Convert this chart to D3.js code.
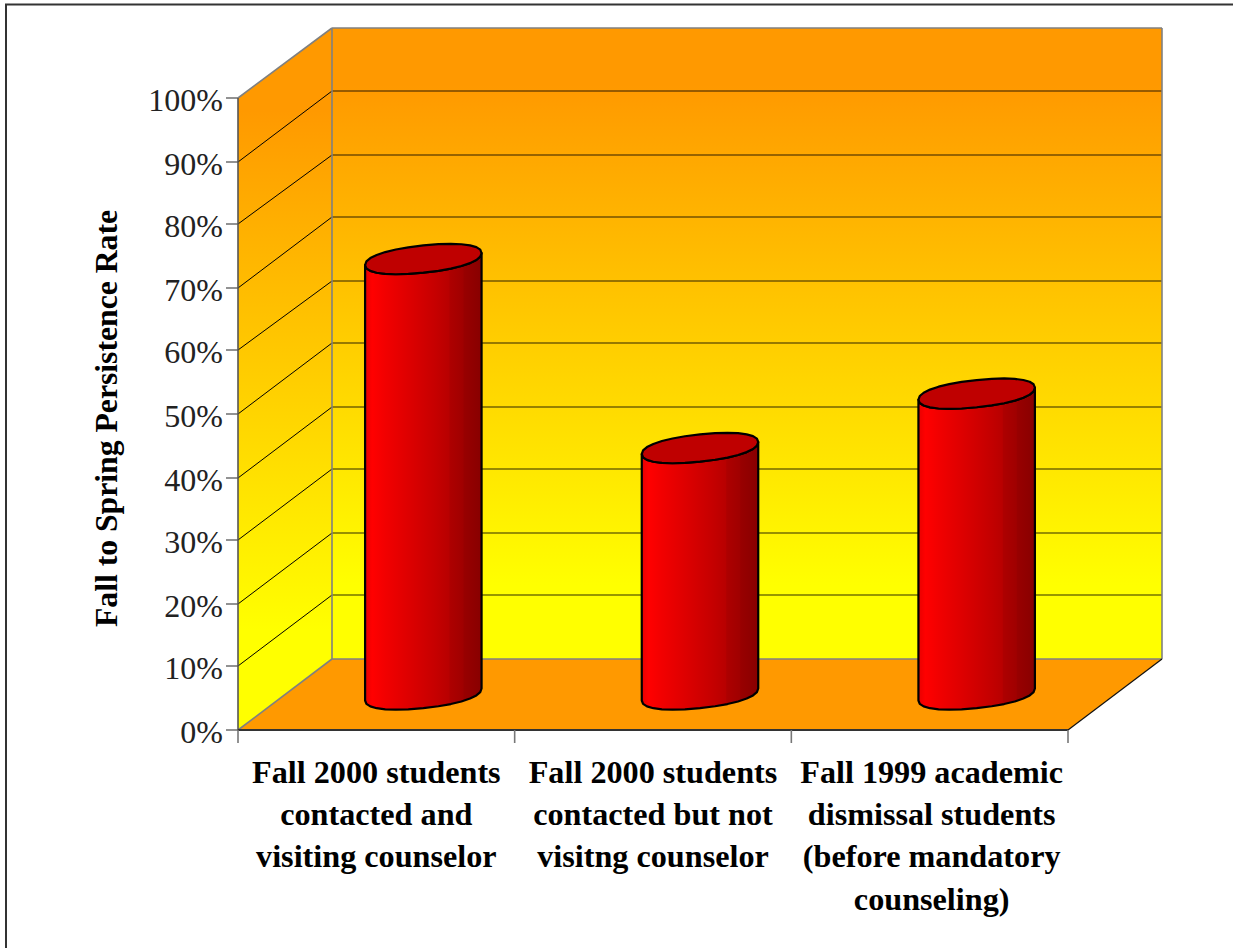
<!DOCTYPE html>
<html><head><meta charset="utf-8">
<script src="https://cdn.jsdelivr.net/npm/d3@7/dist/d3.min.js"></script>
<style>html,body{margin:0;padding:0;background:#fff}svg{display:block}text{font-family:"Liberation Serif",serif}</style>
</head><body><svg id="c" width="1233" height="948"></svg>
<script>
const categories = [
  ["Fall 2000 students","contacted and","visiting counselor"],
  ["Fall 2000 students","contacted but not","visitng counselor"],
  ["Fall 1999 academic","dismissal students","(before mandatory","counseling)"]
];
const rates = [68.9, 39, 47.6];
const yTicks = [0,10,20,30,40,50,60,70,80,90,100];
const axisTitle = "Fall to Spring Persistence Rate";

const W=1233,H=948, depthX=94, depthY=-71;
const svg=d3.select("#c");
const x=d3.scaleBand().domain(d3.range(categories.length)).range([238,1068]).paddingInner(0.579).paddingOuter(0.2895);
const y=d3.scaleLinear().domain([0,100]).range([730,98]);
const yBack=d3.scaleLinear().domain([0,100]).range([659,28]);
const snapFront=v=>2*Math.round(v/2);
const snapBack=v=>2*Math.floor(v/2)+1;
const x0=x.range()[0],x1=x.range()[1],yB=y(0),yT=y(100),bB=yBack(0),bT=yBack(100);

const defs=svg.append("defs");
function grad(id,attrs,stops){
  const g=defs.append("linearGradient").attr("id",id);
  Object.entries(attrs).forEach(([k,v])=>g.attr(k,v));
  stops.forEach(s=>g.append("stop").attr("offset",s[0]).attr("stop-color",s[1]));
}
grad("wall",{gradientUnits:"userSpaceOnUse",x1:0,x2:0,y1:85,y2:585},[[0,"#ff9900"],[1,"#ffff00"]]);
grad("side",{gradientUnits:"userSpaceOnUse",x1:0,x2:0,y1:110,y2:630},[[0,"#ff9900"],[1,"#ffff00"]]);
grad("body",{x1:0,x2:1,y1:0,y2:0},[[0,"#e80000"],[.06,"#ff0000"],[.17,"#f20000"],[.35,"#e00000"],[.6,"#c60000"],[.72,"#b80000"],[.73,"#ad0000"],[.84,"#a00000"],[.85,"#980000"],[1,"#880000"]]);

// frame
svg.append("path").attr("d",`M6,${H}V4.5H${W}`).attr("fill","none").attr("stroke","#333").attr("stroke-width",2);

// walls and floor
const poly=p=>"M"+p.map(d=>d.join(",")).join("L")+"Z";
svg.append("path").attr("d",poly([[x0+depthX,bT],[x1+depthX,bT],[x1+depthX,bB],[x0+depthX,bB]])).attr("fill","url(#wall)");
svg.append("path").attr("d",poly([[x0,yT],[x0+depthX,bT],[x0+depthX,bB],[x0,yB]])).attr("fill","url(#side)");
svg.append("path").attr("d",poly([[x0,yB],[x0+depthX,bB],[x1+depthX,bB],[x1,yB]])).attr("fill","#ff9900");

// gridlines
const grid=yTicks.filter(t=>t>0&&t<100);
svg.append("g").selectAll("line").data(grid).join("line")
  .attr("x1",x0+depthX).attr("x2",x1+depthX).attr("y1",t=>snapBack(yBack(t))).attr("y2",t=>snapBack(yBack(t)))
  .attr("stroke","#000").attr("stroke-opacity",.55).attr("stroke-width",1.4);
svg.append("g").selectAll("line").data(grid).join("line")
  .attr("x1",x0).attr("x2",x0+depthX).attr("y1",t=>snapFront(y(t))).attr("y2",t=>snapBack(yBack(t)))
  .attr("stroke","#000").attr("stroke-width",1);

// wall outlines
const grey="#808080";
const outline=(a,c,w)=>svg.append("line").attr("x1",a[0]).attr("y1",a[1]).attr("x2",a[2]).attr("y2",a[3]).attr("stroke",c).attr("stroke-width",w);
outline([x0,yT,x0+depthX,bT],grey,1.6);
outline([x0+depthX,bT,x1+depthX,bT],grey,1.6);
outline([x1+depthX,bT,x1+depthX,bB],grey,1.6);
outline([x0+depthX,bT,x0+depthX,bB],grey,1.6);
outline([x0+depthX,bB,x1+depthX,bB],grey,1.6);
outline([x0,yB,x0+depthX,bB],grey,1.6);
outline([x1,yB,x1+depthX,bB],"#111",1.2);

// axes
svg.append("g").selectAll("line").data(yTicks).join("line").attr("x1",x0-12).attr("x2",x0)
  .attr("y1",t=>snapFront(y(t))).attr("y2",t=>snapFront(y(t))).attr("stroke","#777").attr("stroke-width",1.6);
outline([x0,yT,x0,yB+1],"#555",1.6);
outline([x0,yB,x1,yB],"#333",1.8);
const xt=[...d3.range(categories.length).map(i=>x(i)-x.step()*x.paddingInner()/2),x1];
svg.append("g").selectAll("line").data(xt).join("line").attr("x1",d=>d).attr("x2",d=>d)
  .attr("y1",yB).attr("y2",yB+13).attr("stroke","#777").attr("stroke-width",1.6);

// cylinders
const rySkew=6, ryMain=13.6, midX=depthX/2, midY=depthY/2, round=0.9;
const line=d3.line();
const sp=c=>Math.sign(c)*Math.pow(Math.abs(c),round);
function arc(cx,cy,rx,from,to,n){
  return d3.range(n+1).map(i=>{const t=from+(to-from)*i/n, C=sp(Math.cos(t)), S=sp(Math.sin(t));
    return [cx+rx*C,cy-rySkew*C+ryMain*S];});
}
const bars=svg.append("g").selectAll("g").data(rates).join("g");
bars.each(function(v,i){
  const g=d3.select(this);
  const rx=x.bandwidth()/2, cx=x(i)+rx+midX, cyB=y(0)+midY, cyT=y(v)+midY;
  const bottom=arc(cx,cyB,rx,Math.PI,0,14);
  const topFront=arc(cx,cyT,rx,0,Math.PI,14);
  g.append("path").attr("d",line(bottom.concat(topFront))+"Z").attr("fill","url(#body)")
    .attr("stroke","#000").attr("stroke-width",2.2).attr("stroke-linejoin","round");
  g.append("path").attr("d",line(arc(cx,cyT,rx,0,2*Math.PI,28))+"Z").attr("fill","#bf0000")
    .attr("stroke","#000").attr("stroke-width",2.2).attr("stroke-linejoin","round");
});

// text
svg.append("g").selectAll("text").data(yTicks).join("text")
  .attr("x",x0-15).attr("y",t=>snapFront(y(t))+13).attr("text-anchor","end")
  .attr("font-size",32).attr("fill","#222").text(t=>t+"%");
const lab=svg.append("g").selectAll("g").data(categories).join("g");
lab.each(function(lines,i){
  d3.select(this).selectAll("text").data(lines).join("text")
    .attr("x",x(i)+x.bandwidth()/2+(i==2?2:0)).attr("y",(d,j)=>782.5+j*42.4).attr("text-anchor","middle")
    .attr("font-size",32.2).attr("font-weight","bold").attr("fill","#000").text(d=>d);
});
svg.append("text").attr("transform","translate(117,418.5) rotate(-90)").attr("text-anchor","middle")
  .attr("font-size",31.7).attr("font-weight","bold").attr("fill","#000").text(axisTitle);
</script></body></html>
